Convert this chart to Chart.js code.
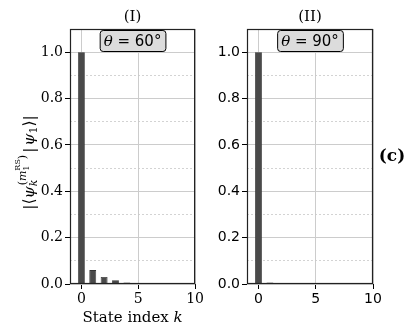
<!DOCTYPE html>
<html><head><meta charset="utf-8">
<script src="https://cdn.jsdelivr.net/npm/chart.js@4.4.1/dist/chart.umd.min.js"></script>
<style>
html,body{margin:0;padding:0;background:#fff;width:412px;height:336px;overflow:hidden}
canvas.c{position:absolute;top:0}
</style></head><body>
<canvas id="c1" class="c" width="206" height="336" style="left:0"></canvas>
<canvas id="c2" class="c" width="206" height="336" style="left:206px"></canvas>
<script>
// ---- data ----
const stateIndex = [0, 1, 2, 3, 4, 5, 6, 7, 8, 9, 10];
const overlapTheta60 = [1.0, 0.060, 0.030, 0.016, 0.007, 0.002, 0, 0, 0, 0, 0];
const overlapTheta90 = [1.0, 0.006, 0, 0, 0, 0, 0, 0, 0, 0, 0];
const panelTitles = ['(I)', '(II)'];
const thetaValues = ['60°', '90°'];
const xTickValues = [0, 5, 10];
const yMajorTicks = [0.0, 0.2, 0.4, 0.6, 0.8, 1.0];
const yMinorTicks = [0.1, 0.3, 0.5, 0.7, 0.9, 1.1];
const xAxisLabel = 'State index ';
const xAxisVar = 'k';
const panelTag = '(c)';

const isMajor = v => Math.round(v * 10) % 2 === 0;

function drawYLabel(ctx, cx, cy) {
  const S = 'DejaVu Serif';
  const big = 15.5, sm = 11, tiny = 8;
  const f = (size, it) => (it ? 'italic ' : '') + size + 'px "' + S + '"';
  const items = [];
  let x = 0;
  function put(t, size, it, dy, adv = true) {
    ctx.font = f(size, it);
    const w = ctx.measureText(t).width;
    items.push({t, size, it, dy, x});
    if (adv) x += w;
    return w;
  }
  put('|', big, false, 0);
  put('⟨', big, false, 0);
  put('ψ', big, true, 0);
  const sx = x;
  const wk = put('k', sm, true, 3, false);
  x = sx + 1;
  put('(', sm, false, -8);
  put('m', sm, true, -8);
  put('1', tiny, false, -5, false);
  put('RS', tiny, false, -14);
  put(')', sm, false, -8);
  x = Math.max(x, sx + wk) + 2;
  put('|', big, false, 0);
  x += 2;
  put('ψ', big, true, 0);
  put('1', sm, false, 3);
  put('⟩', big, false, 0);
  put('|', big, false, 0);
  const W = x;
  ctx.save();
  ctx.translate(cx, cy);
  ctx.rotate(-Math.PI / 2);
  ctx.fillStyle = '#000';
  ctx.textBaseline = 'alphabetic';
  ctx.textAlign = 'left';
  for (const p of items) {
    ctx.font = f(p.size, p.it);
    ctx.fillText(p.t, p.x - W / 2, p.dy);
  }
  ctx.restore();
}

function makeChart(id, values, cfg) {
  const tickFont = {family: cfg.tickFamily, size: 14};
  const overlay = {
    id: 'overlay' + id,
    afterDraw(chart) {
      const ctx = chart.ctx, a = chart.chartArea;
      ctx.save();
      ctx.strokeStyle = '#222';
      ctx.lineWidth = 1.2;
      ctx.strokeRect(a.left + 0.5, a.top + 0.5, a.right - a.left - 1, a.bottom - a.top - 1);
      const cx = (a.left + a.right) / 2;
      ctx.fillStyle = '#000';
      ctx.font = '15px "DejaVu Serif"';
      ctx.textAlign = 'center';
      ctx.textBaseline = 'alphabetic';
      ctx.fillText(cfg.title, cx, 21);
      ctx.font = 'italic 15px "DejaVu Serif"';
      const t1 = 'θ';
      const w1 = ctx.measureText(t1).width;
      ctx.font = '15px "DejaVu Sans"';
      const t2 = ' = ' + cfg.theta;
      const w2 = ctx.measureText(t2).width;
      const bw = w1 + w2 + 8, bh = 21;
      const bx = cx - bw / 2, by = 30;
      ctx.beginPath();
      ctx.roundRect(bx + 0.5, by + 0.5, bw, bh, 3);
      ctx.fillStyle = '#dcdcdc';
      ctx.fill();
      ctx.strokeStyle = '#000';
      ctx.lineWidth = 1;
      ctx.stroke();
      ctx.fillStyle = '#000';
      ctx.textAlign = 'left';
      ctx.font = 'italic 15px "DejaVu Serif"';
      ctx.fillText(t1, bx + 4, by + 16);
      ctx.font = '15px "DejaVu Sans"';
      ctx.fillText(t2, bx + 4 + w1, by + 16);
      if (cfg.xTitle) {
        ctx.font = '15px "DejaVu Serif"';
        const wa = ctx.measureText(xAxisLabel).width;
        ctx.font = 'italic 15px "DejaVu Serif"';
        const wb = ctx.measureText(xAxisVar).width;
        const x0 = cx - (wa + wb) / 2;
        ctx.font = '15px "DejaVu Serif"';
        ctx.fillText(xAxisLabel, x0, 322);
        ctx.font = 'italic 15px "DejaVu Serif"';
        ctx.fillText(xAxisVar, x0 + wa, 322);
        drawYLabel(ctx, 34, (a.top + a.bottom) / 2 + 6);
      }
      if (cfg.tag) {
        ctx.font = 'bold 17px "DejaVu Serif"';
        ctx.textAlign = 'center';
        ctx.fillText(panelTag, 186, 161);
      }
      ctx.restore();
    }
  };
  return new Chart(document.getElementById(id), {
    type: 'bar',
    data: {
      datasets: [{
        data: stateIndex.map((x, i) => ({x: x, y: values[i]})),
        backgroundColor: '#4a4a4a',
        borderColor: '#333333',
        borderWidth: 0.8,
        barPercentage: 0.76,
        categoryPercentage: 0.8
      }]
    },
    options: {
      responsive: false,
      animation: false,
      events: [],
      layout: {padding: {left: 0, top: 29, right: cfg.padRight, bottom: 0}},
      plugins: {legend: {display: false}, tooltip: {enabled: false}, title: {display: false}},
      scales: {
        x: {
          type: 'linear', min: -1, max: 10, offset: false, z: 1,
          afterBuildTicks: s => { s.ticks = xTickValues.map(v => ({value: v})); },
          afterFit: s => { s.height = 52; },
          ticks: {font: tickFont, color: '#000', padding: 2, maxRotation: 0,
                  callback: v => String(v)},
          grid: {offset: false, color: '#cccccc', lineWidth: 1, tickColor: '#000', tickLength: 5},
          border: {display: false}
        },
        y: {
          type: 'linear', min: 0, max: 1.1, z: 1,
          afterBuildTicks: s => {
            s.ticks = yMajorTicks.concat(yMinorTicks).sort((p, q) => p - q).map(v => ({value: v}));
          },
          afterFit: s => { s.width = cfg.yWidth; },
          ticks: {font: tickFont, color: '#000', padding: 2,
                  callback: v => isMajor(v) ? v.toFixed(1) : ''},
          grid: {
            color: c => isMajor(c.tick.value) ? '#cccccc' : '#c8c8c8',
            lineWidth: c => isMajor(c.tick.value) ? 1 : 0.8,
            tickColor: c => isMajor(c.tick.value) ? '#000' : 'rgba(0,0,0,0)',
            tickLength: 5
          },
          border: {display: false, dash: c => (c.tick && !isMajor(c.tick.value)) ? [2, 2] : []}
        }
      }
    },
    plugins: [overlay]
  });
}

makeChart('c1', overlapTheta60, {tickFamily: 'DejaVu Serif', yWidth: 70, padRight: 10,
  title: panelTitles[0], theta: thetaValues[0], xTitle: true});
makeChart('c2', overlapTheta90, {tickFamily: 'DejaVu Sans', yWidth: 41, padRight: 39,
  title: panelTitles[1], theta: thetaValues[1], tag: true});
</script>
</body></html>
